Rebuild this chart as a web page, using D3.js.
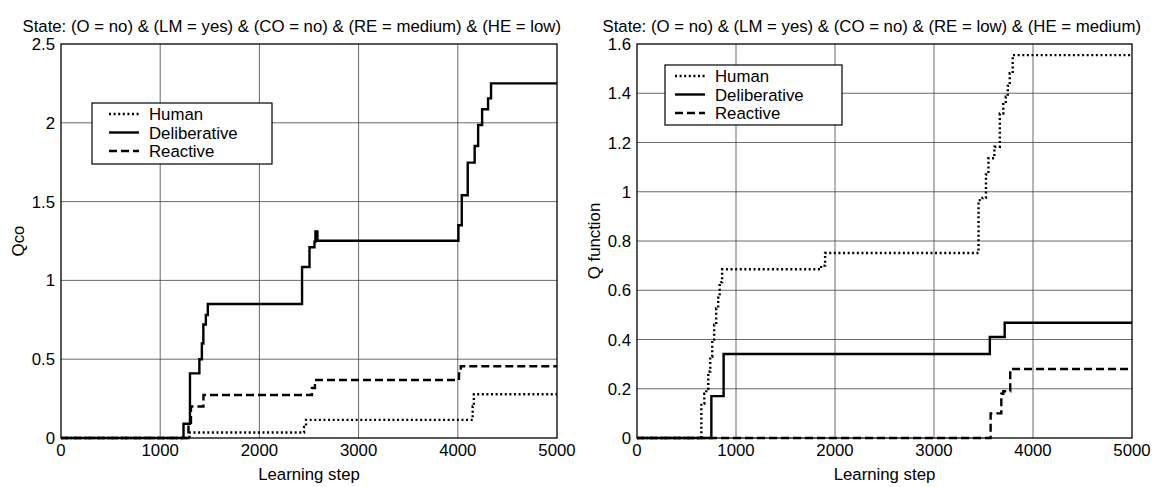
<!DOCTYPE html>
<html>
<head>
<meta charset="utf-8">
<script src="https://cdn.jsdelivr.net/npm/d3@7"></script>
<style>
  body { margin: 0; background: white; }
  text { font-family: "Liberation Sans", Arial, Helvetica, sans-serif; fill: black; }
</style>
</head>
<body>
<div id="chart"></div>
<script>
// x ticks shared by both panels
const stepTicks = [0, 1000, 2000, 3000, 4000, 5000]
const seriesNames = ["Human", "Deliberative", "Reactive"]

// left panel: Qco, pairs of [learning step, value]
const qcoTicks = [0, 0.5, 1, 1.5, 2, 2.5]
const qcoHuman = [[0, 0], [1295, 0.035], [2450, 0.07], [2470, 0.115], [4150, 0.2], [4162, 0.278], [5000, 0.278]]
const qcoDelib = [[0, 0], [1235, 0.09], [1300, 0.41], [1395, 0.5], [1420, 0.6], [1435, 0.72], [1460, 0.78],
  [1480, 0.85], [2430, 1.085], [2505, 1.21], [2555, 1.245], [2565, 1.31], [2585, 1.252], [4006, 1.35],
  [4040, 1.54], [4100, 1.747], [4170, 1.853], [4205, 1.986], [4245, 2.086], [4305, 2.155], [4335, 2.25], [5000, 2.25]]
const qcoReact = [[0, 0], [1285, 0.08], [1310, 0.2], [1436, 0.273], [2530, 0.317], [2560, 0.368], [4012, 0.41],
  [4030, 0.455], [5000, 0.455]]

// right panel: Q function
const qTicks = [0, 0.2, 0.4, 0.6, 0.8, 1, 1.2, 1.4, 1.6]
const qHuman = [[0, 0], [650, 0.14], [680, 0.18], [700, 0.2], [720, 0.27], [740, 0.33], [760, 0.4], [780, 0.46],
  [800, 0.527], [820, 0.57], [835, 0.633], [860, 0.685], [1860, 0.7], [1900, 0.751], [3450, 0.966],
  [3490, 0.975], [3525, 1.07], [3550, 1.136], [3610, 1.183], [3665, 1.318], [3700, 1.36], [3725, 1.386],
  [3745, 1.43], [3765, 1.481], [3795, 1.555], [5000, 1.555]]
const qDelib = [[0, 0], [751, 0.17], [875, 0.341], [3564, 0.41], [3714, 0.468], [5000, 0.468]]
const qReact = [[0, 0], [3572, 0.1], [3680, 0.18], [3700, 0.19], [3770, 0.28], [5000, 0.28]]

const W = 1152, H = 487
const fontSize = 16.8
const dashes = { Human: "2,2.6", Deliberative: null, Reactive: "8,4" }

let svg = d3.select('#chart')
  .append('svg')
  .attr('width', W)
  .attr('height', H)
  .style('background-color', 'white')

function panel(p) {
  let x = d3.scaleLinear().domain([0, 5000]).range([p.left, p.right])
  let y = d3.scaleLinear().domain([0, p.yTicks[p.yTicks.length - 1]]).range([p.bottom, p.top])
  let g = svg.append('g')

  // grid
  g.selectAll('.vgrid').data(stepTicks.slice(1, -1)).enter().append('line')
    .attr('x1', d => x(d)).attr('x2', d => x(d))
    .attr('y1', p.top).attr('y2', p.bottom)
    .style('stroke', '#444').style('stroke-width', 0.8)
  g.selectAll('.hgrid').data(p.yTicks.slice(1, -1)).enter().append('line')
    .attr('x1', p.left).attr('x2', p.right)
    .attr('y1', d => y(d)).attr('y2', d => y(d))
    .style('stroke', '#444').style('stroke-width', 0.8)

  // series
  let line = d3.line().x(d => x(d[0])).y(d => y(d[1])).curve(d3.curveStepAfter)
  p.series.forEach((s, i) => {
    g.append('path')
      .attr('d', line(s))
      .style('fill', 'none')
      .style('stroke', 'black')
      .style('stroke-width', 2.4)
      .style('stroke-dasharray', dashes[seriesNames[i]])
  })

  // box
  g.append('rect')
    .attr('x', p.left).attr('y', p.top)
    .attr('width', p.right - p.left).attr('height', p.bottom - p.top)
    .style('fill', 'none').style('stroke', 'black').style('stroke-width', 1.3)

  // tick labels
  g.selectAll('.xt').data(stepTicks).enter().append('text')
    .attr('x', d => x(d)).attr('y', p.bottom + 18)
    .attr('text-anchor', 'middle')
    .style('font-size', fontSize + 'px')
    .text(d => d)
  g.selectAll('.yt').data(p.yTicks).enter().append('text')
    .attr('x', p.left - 6).attr('y', d => y(d) + 6)
    .attr('text-anchor', 'end')
    .style('font-size', fontSize + 'px')
    .text(d => d)

  // labels and title
  g.append('text')
    .attr('x', (p.left + p.right) / 2).attr('y', p.bottom + 42)
    .attr('text-anchor', 'middle')
    .style('font-size', fontSize + 'px')
    .text('Learning step')
  g.append('text')
    .attr('transform', 'translate(' + p.ylabX + ',' + (p.top + p.bottom) / 2 + ') rotate(-90)')
    .attr('text-anchor', 'middle')
    .style('font-size', fontSize + 'px')
    .text(p.ylabel)
  g.append('text')
    .attr('x', p.right + p.titleShift).attr('y', p.top - 12)
    .attr('text-anchor', 'end')
    .style('font-size', fontSize + 'px')
    .text(p.title)

  // legend
  let lg = p.legend
  g.append('rect')
    .attr('x', lg.x).attr('y', lg.y)
    .attr('width', lg.w).attr('height', lg.h)
    .style('fill', 'white').style('stroke', 'black').style('stroke-width', 1.2)
  seriesNames.forEach((name, i) => {
    let ly = lg.y + 11 + i * 18.5
    g.append('line')
      .attr('x1', lg.x + lg.pad).attr('x2', lg.x + lg.pad + 30)
      .attr('y1', ly).attr('y2', ly)
      .style('stroke', 'black').style('stroke-width', 2.4)
      .style('stroke-dasharray', dashes[name])
    g.append('text')
      .attr('x', lg.x + lg.pad + 40).attr('y', ly + 6)
      .style('font-size', fontSize + 'px')
      .text(name)
  })
}

panel({
  left: 61, right: 557, top: 44, bottom: 438, titleShift: 4,
  yTicks: qcoTicks, series: [qcoHuman, qcoDelib, qcoReact],
  ylabel: 'Qco', ylabX: 24,
  title: 'State: (O = no) & (LM = yes) & (CO = no) & (RE = medium) & (HE = low)',
  legend: { x: 92, y: 103, w: 180, h: 61, pad: 17 }
})

panel({
  left: 637, right: 1132, top: 44, bottom: 438, titleShift: 9,
  yTicks: qTicks, series: [qHuman, qDelib, qReact],
  ylabel: 'Q function', ylabX: 600,
  title: 'State: (O = no) & (LM = yes) & (CO = no) & (RE = low) & (HE = medium)',
  legend: { x: 665, y: 65, w: 177, h: 60, pad: 10 }
})
</script>
</body>
</html>
